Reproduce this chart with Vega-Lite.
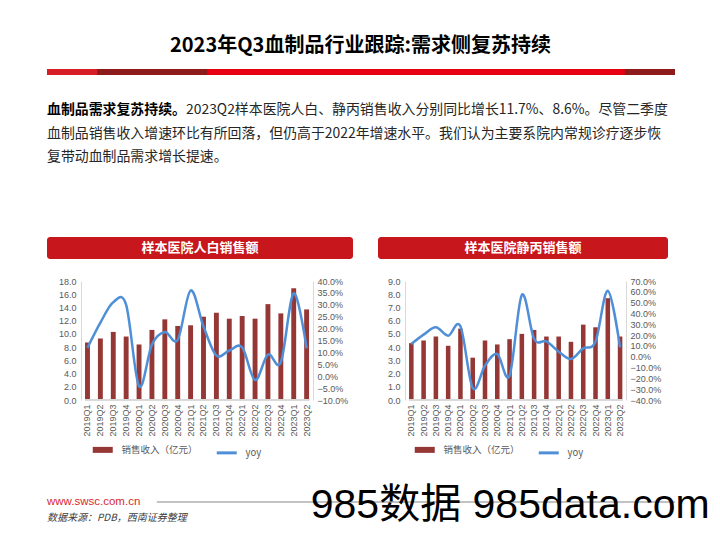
{
  "$schema": "https://vega.github.io/schema/vega-lite/v6.json",
  "background": "white",
  "padding": {"left": 47, "top": 36, "right": 0, "bottom": 0},
  "title": {"text": "2023年Q3血制品行业跟踪:需求侧复苏持续", "anchor": "start", "dx": 123, "font": "Noto Sans CJK SC", "fontSize": 20, "fontWeight": "bold", "color": "#000000", "offset": 13},
  "config": {
    "view": {"stroke": null},
    "font": "Noto Sans CJK SC",
    "axis": {"labelFont": "Liberation Sans", "labelFontSize": 9, "labelColor": "#595959", "domainColor": "#d9d9d9", "ticks": false, "grid": false},
    "legend": {"layout": {"bottom": {"anchor": "middle"}}}
  },
  "datasets": {
    "renbai": [
      {"q": "2019Q1", "sales": 8.7, "yoy": 0.119},
      {"q": "2019Q2", "sales": 9.3, "yoy": 0.225},
      {"q": "2019Q3", "sales": 10.3, "yoy": 0.311},
      {"q": "2019Q4", "sales": 9.6, "yoy": 0.300},
      {"q": "2020Q1", "sales": 8.4, "yoy": -0.042},
      {"q": "2020Q2", "sales": 10.6, "yoy": 0.133},
      {"q": "2020Q3", "sales": 12.2, "yoy": 0.186},
      {"q": "2020Q4", "sales": 11.2, "yoy": 0.153},
      {"q": "2021Q1", "sales": 11.3, "yoy": 0.360},
      {"q": "2021Q2", "sales": 12.6, "yoy": 0.209},
      {"q": "2021Q3", "sales": 13.2, "yoy": 0.087},
      {"q": "2021Q4", "sales": 12.3, "yoy": 0.108},
      {"q": "2022Q1", "sales": 12.7, "yoy": 0.121},
      {"q": "2022Q2", "sales": 12.3, "yoy": -0.016},
      {"q": "2022Q3", "sales": 14.5, "yoy": 0.091},
      {"q": "2022Q4", "sales": 13.1, "yoy": 0.059},
      {"q": "2023Q1", "sales": 16.9, "yoy": 0.348},
      {"q": "2023Q2", "sales": 13.7, "yoy": 0.117}
    ],
    "jingbing": [
      {"q": "2019Q1", "sales": 4.3, "yoy": 0.118},
      {"q": "2019Q2", "sales": 4.5, "yoy": 0.204},
      {"q": "2019Q3", "sales": 4.8, "yoy": 0.272},
      {"q": "2019Q4", "sales": 4.1, "yoy": 0.195},
      {"q": "2020Q1", "sales": 5.4, "yoy": 0.281},
      {"q": "2020Q2", "sales": 3.2, "yoy": -0.289},
      {"q": "2020Q3", "sales": 4.5, "yoy": -0.083},
      {"q": "2020Q4", "sales": 4.2, "yoy": 0.025},
      {"q": "2021Q1", "sales": 4.6, "yoy": -0.175},
      {"q": "2021Q2", "sales": 5.0, "yoy": 0.571},
      {"q": "2021Q3", "sales": 5.3, "yoy": 0.164},
      {"q": "2021Q4", "sales": 4.8, "yoy": 0.142},
      {"q": "2022Q1", "sales": 4.8, "yoy": 0.047},
      {"q": "2022Q2", "sales": 4.4, "yoy": -0.021},
      {"q": "2022Q3", "sales": 5.7, "yoy": 0.078},
      {"q": "2022Q4", "sales": 5.5, "yoy": 0.139},
      {"q": "2023Q1", "sales": 7.7, "yoy": 0.610},
      {"q": "2023Q2", "sales": 4.8, "yoy": 0.086}
    ]
  },
  "columns": 1,
  "align": "none",
  "spacing": 0,
  "resolve": {"scale": {"color": "independent"}, "legend": {"color": "independent"}},
  "concat": [
    {
      "width": 628, "height": 6,
      "data": {"values": [{"k": "line"}]},
      "layer": [
        {"mark": {"type": "rect", "color": "#e60012"}, "encoding": {"x": {"datum": 0, "type": "quantitative", "scale": {"domain": [0, 1]}, "axis": null}, "x2": {"datum": 1}}},
        {"mark": {"type": "rect", "color": "#d81e26"}, "encoding": {"x": {"datum": 0, "type": "quantitative"}, "x2": {"datum": 0.08}}},
        {"mark": {"type": "rect", "color": "#8e1b1b"}, "encoding": {"x": {"datum": 0.08, "type": "quantitative"}, "x2": {"datum": 0.255}}},
        {"mark": {"type": "rect", "color": "#8e1b1b"}, "encoding": {"x": {"datum": 0.92, "type": "quantitative"}, "x2": {"datum": 1}}}
      ]
    },
    {
      "width": 628, "height": 162,
      "data": {"values": [
        {"line": 1, "part": "bold", "text": "血制品需求复苏持续。"},
        {"line": 1, "part": "rest", "text": "2023Q2样本医院人白、静丙销售收入分别同比增长11.7%、8.6%。尽管二季度"},
        {"line": 2, "part": "plain", "text": "血制品销售收入增速环比有所回落，但仍高于2022年增速水平。我们认为主要系院内常规诊疗逐步恢"},
        {"line": 3, "part": "plain", "text": "复带动血制品需求增长提速。"}
      ]},
      "encoding": {
        "x": {"datum": 0, "type": "quantitative", "scale": {"domain": [0, 1]}, "axis": null},
        "y": {"field": "line", "type": "quantitative", "scale": {"domain": [-0.5, 6.394], "reverse": true, "nice": false, "zero": false}, "axis": null},
        "text": {"field": "text"}
      },
      "layer": [
        {"transform": [{"filter": "datum.part === 'bold'"}], "mark": {"type": "text", "align": "left", "baseline": "middle", "fontSize": 13.9, "fontWeight": "bold", "color": "#000000"}},
        {"transform": [{"filter": "datum.part === 'rest'"}], "mark": {"type": "text", "align": "left", "baseline": "middle", "fontSize": 13.9, "color": "#262626", "dx": 139}},
        {"transform": [{"filter": "datum.part === 'plain'"}], "mark": {"type": "text", "align": "left", "baseline": "middle", "fontSize": 13.9, "color": "#262626"}}
      ]
    },
    {
      "spacing": 25,
      "resolve": {"scale": {"color": "independent"}, "legend": {"color": "independent"}},
      "hconcat": [
        {
          "columns": 1,
          "align": "none",
          "spacing": 18,
          "resolve": {"scale": {"color": "independent"}, "legend": {"color": "independent"}},
          "concat": [
            {
              "width": 306, "height": 22,
              "view": {"fill": "#c8161d", "cornerRadius": 3, "stroke": null},
              "data": {"values": [{"h": "样本医院人白销售额"}]},
              "mark": {"type": "text", "color": "white", "fontSize": 13, "fontWeight": "bold", "align": "center", "baseline": "middle"},
              "encoding": {"text": {"field": "h"}}
            },
            {
              "width": 266, "height": 119,
              "data": {"name": "renbai"},
              "encoding": {
                "x": {"field": "q", "type": "nominal", "sort": null,
                  "scale": {"domain": ["b1", "b2", "2019Q1", "2019Q2", "2019Q3", "2019Q4", "2020Q1", "2020Q2", "2020Q3", "2020Q4", "2021Q1", "2021Q2", "2021Q3", "2021Q4", "2022Q1", "2022Q2", "2022Q3", "2022Q4", "2023Q1", "2023Q2"], "paddingInner": 0.62, "paddingOuter": 0.628, "align": 0.757},
                  "axis": {"title": null, "labelAngle": -90, "labelPadding": 4, "domain": false, "labelExpr": "indexof(datum.value, 'Q') > 0 ? datum.label : ''"}}
              },
              "layer": [
                {
                  "encoding": {
                    "y": {"field": "sales", "type": "quantitative", "scale": {"domain": [0, 18]}, "axis": {"title": null, "orient": "left", "values": [0, 2, 4, 6, 8, 10, 12, 14, 16, 18], "format": ".1f", "offset": -34, "minExtent": 0, "labelPadding": 5}}
                  },
                  "layer": [
                    {
                      "mark": {"type": "bar"},
                      "encoding": {
                        "color": {"datum": "销售收入（亿元）", "type": "nominal", "scale": {"domain": ["销售收入（亿元）", "yoy"], "range": ["#953735", "#4f8fd7"]},
                          "legend": {"orient": "bottom", "direction": "horizontal", "title": null, "labelFont": "Noto Sans CJK SC", "labelFontSize": 9.5, "labelColor": "#595959", "symbolType": "stroke", "symbolSize": 400, "symbolStrokeWidth": 3, "labelOffset": 14, "columnPadding": 12, "offset": 8,
                            "encode": {"symbols": {"update": {"strokeWidth": {"signal": "datum.value === 'yoy' ? 3 : 6"}, "stroke": {"signal": "datum.value === 'yoy' ? '#4f8fd7' : '#953735'"}}}}}}
                      }
                    },
                    {
                      "mark": {"type": "rule", "color": "#d9d9d9", "strokeWidth": 1},
                      "encoding": {
                        "x": {"datum": "2019Q1", "type": "nominal", "bandPosition": 0},
                        "x2": {"datum": "2023Q2", "bandPosition": 1},
                        "y": {"datum": 0, "type": "quantitative"}
                      }
                    }
                  ]
                },
                {
                  "mark": {"type": "line", "interpolate": "cardinal", "strokeWidth": 2.5},
                  "encoding": {
                    "y": {"field": "yoy", "type": "quantitative", "scale": {"domain": [-0.1, 0.4], "nice": false}, "axis": {"title": null, "orient": "right", "values": [-0.1, -0.05, 0, 0.05, 0.1, 0.15, 0.2, 0.25, 0.3, 0.35, 0.4], "format": ".1%", "labelPadding": 4}},
                    "color": {"datum": "yoy", "type": "nominal"}
                  }
                }
              ],
              "resolve": {"scale": {"y": "independent"}}
            }
          ]
        },
        {
          "columns": 1,
          "align": "none",
          "spacing": 18,
          "resolve": {"scale": {"color": "independent"}, "legend": {"color": "independent"}},
          "concat": [
            {
              "width": 290, "height": 22,
              "view": {"fill": "#c8161d", "cornerRadius": 3, "stroke": null},
              "data": {"values": [{"h": "样本医院静丙销售额"}]},
              "mark": {"type": "text", "color": "white", "fontSize": 13, "fontWeight": "bold", "align": "center", "baseline": "middle"},
              "encoding": {"text": {"field": "h"}}
            },
            {
              "width": 248, "height": 119,
              "data": {"name": "jingbing"},
              "encoding": {
                "x": {"field": "q", "type": "nominal", "sort": null,
                  "scale": {"domain": ["b1", "b2", "2019Q1", "2019Q2", "2019Q3", "2019Q4", "2020Q1", "2020Q2", "2020Q3", "2020Q4", "2021Q1", "2021Q2", "2021Q3", "2021Q4", "2022Q1", "2022Q2", "2022Q3", "2022Q4", "2023Q1", "2023Q2"], "paddingInner": 0.63, "paddingOuter": 0.413, "align": 0.64},
                  "axis": {"title": null, "labelAngle": -90, "labelPadding": 4, "domain": false, "labelExpr": "indexof(datum.value, 'Q') > 0 ? datum.label : ''"}}
              },
              "layer": [
                {
                  "encoding": {
                    "y": {"field": "sales", "type": "quantitative", "scale": {"domain": [0, 9]}, "axis": {"title": null, "orient": "left", "values": [0, 1, 2, 3, 4, 5, 6, 7, 8, 9], "format": ".1f", "offset": -27, "minExtent": 0, "labelPadding": 5}}
                  },
                  "layer": [
                    {
                      "mark": {"type": "bar"},
                      "encoding": {
                        "color": {"datum": "销售收入（亿元）", "type": "nominal", "scale": {"domain": ["销售收入（亿元）", "yoy"], "range": ["#953735", "#4f8fd7"]},
                          "legend": {"orient": "bottom", "direction": "horizontal", "title": null, "labelFont": "Noto Sans CJK SC", "labelFontSize": 9.5, "labelColor": "#595959", "symbolType": "stroke", "symbolSize": 400, "symbolStrokeWidth": 3, "labelOffset": 14, "columnPadding": 12, "offset": 8,
                            "encode": {"symbols": {"update": {"strokeWidth": {"signal": "datum.value === 'yoy' ? 3 : 6"}, "stroke": {"signal": "datum.value === 'yoy' ? '#4f8fd7' : '#953735'"}}}}}}
                      }
                    },
                    {
                      "mark": {"type": "rule", "color": "#d9d9d9", "strokeWidth": 1},
                      "encoding": {
                        "x": {"datum": "2019Q1", "type": "nominal", "bandPosition": 0},
                        "x2": {"datum": "2023Q2", "bandPosition": 1},
                        "y": {"datum": 0, "type": "quantitative"}
                      }
                    }
                  ]
                },
                {
                  "mark": {"type": "line", "interpolate": "cardinal", "strokeWidth": 2.5},
                  "encoding": {
                    "y": {"field": "yoy", "type": "quantitative", "scale": {"domain": [-0.4, 0.7], "nice": false}, "axis": {"title": null, "orient": "right", "values": [-0.4, -0.3, -0.2, -0.1, 0, 0.1, 0.2, 0.3, 0.4, 0.5, 0.6, 0.7], "format": ".1%", "labelPadding": 4}},
                    "color": {"datum": "yoy", "type": "nominal"}
                  }
                }
              ],
              "resolve": {"scale": {"y": "independent"}}
            }
          ]
        }
      ]
    },
    {
      "width": 628, "height": 78,
      "data": {"values": [
        {"r": 1, "kind": "url", "t": "www.swsc.com.cn"},
        {"r": 2, "kind": "src", "t": "数据来源：PDB，西南证券整理"}
      ]},
      "layer": [
        {
          "mark": {"type": "rule", "color": "#bfbfbf", "strokeWidth": 1.5},
          "encoding": {
            "x": {"datum": 0.175, "type": "quantitative", "scale": {"domain": [0, 1]}, "axis": null},
            "x2": {"datum": 1},
            "y": {"datum": 1, "type": "quantitative", "scale": {"domain": [-1.5, 3.375], "reverse": true, "nice": false, "zero": false}, "axis": null}
          }
        },
        {
          "transform": [{"filter": "datum.kind === 'url'"}],
          "mark": {"type": "text", "align": "left", "baseline": "middle", "fontSize": 11.5, "font": "Liberation Sans", "color": "#d7282f"},
          "encoding": {
            "x": {"datum": 0, "type": "quantitative"},
            "y": {"field": "r", "type": "quantitative"},
            "text": {"field": "t"}
          }
        },
        {
          "transform": [{"filter": "datum.kind === 'src'"}],
          "mark": {"type": "text", "align": "left", "baseline": "middle", "fontSize": 10, "fontStyle": "italic", "color": "#404040"},
          "encoding": {
            "x": {"datum": 0, "type": "quantitative"},
            "y": {"field": "r", "type": "quantitative"},
            "text": {"field": "t"}
          }
        },
        {
          "data": {"values": [{"t": "985数据 985data.com"}]},
          "mark": {"type": "text", "align": "left", "baseline": "middle", "fontSize": 41, "font": "Liberation Sans, Noto Sans CJK SC", "color": "#000000"},
          "encoding": {
            "x": {"datum": 0.42, "type": "quantitative"},
            "y": {"datum": 1.25, "type": "quantitative"},
            "text": {"field": "t"}
          }
        }
      ]
    }
  ]
}
